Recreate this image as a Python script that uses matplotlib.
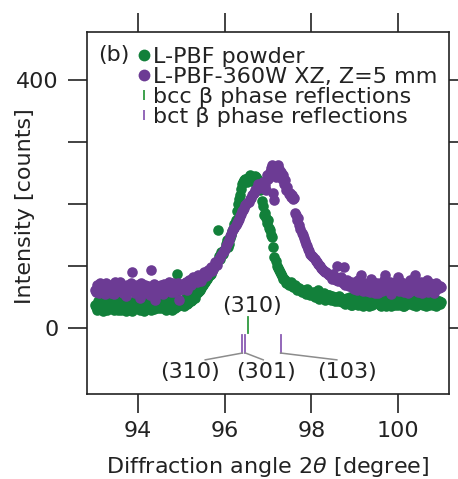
import matplotlib
matplotlib.use("Agg")
import matplotlib.pyplot as plt
from matplotlib.lines import Line2D
import numpy as np

# XRD scan grid (2theta, degree): main points and the in-between points
two_theta = np.round(np.arange(93.0, 101.0 + 1e-9, 0.05), 2)
two_theta_mid = np.round(np.arange(93.025, 101.0, 0.05), 3)

# L-PBF powder, counts
powder = [
    38, 30, 42, 35, 28, 40, 33, 45, 36, 30,
    41, 34, 29, 44, 37, 32, 40, 27, 38, 43,
    35, 30, 46, 38, 33, 41, 29, 36, 44, 32,
    39, 47, 34, 30, 42, 37, 45, 33, 88, 40,
    44, 36, 48, 41, 50, 46, 52, 56, 60, 64,
    70, 75, 80, 86, 92, 98, 104, 158, 112, 120,
    128, 142, 135, 150, 160, 175, 200, 215, 232, 238,
    240, 244, 238, 242, 245, 240, 232, 205, 182, 178,
    174, 158, 147, 115, 100, 94, 88, 80, 77, 75,
    72, 70, 68, 66, 64, 62, 60, 58, 63, 56,
    55, 59, 52, 61, 54, 50, 56, 48, 53, 46,
    50, 44, 48, 52, 42, 47, 40, 45, 50, 38,
    44, 48, 40, 46, 36, 43, 49, 41, 38, 45,
    40, 47, 35, 42, 48, 39, 44, 36, 46, 41,
    38, 45, 42, 36, 48, 40, 44, 37, 46, 43,
    39, 47, 41, 35, 45, 42, 38, 46, 40, 44,
    42,
]
powder_mid = [
    34, 44, 31, 39, 46, 29, 37, 41, 33, 47,
    30, 38, 45, 33, 28, 42, 36, 31, 46, 35,
    43, 37, 28, 40, 45, 34, 39, 31, 47, 38,
    33, 41, 38, 46, 35, 29, 40, 48, 36, 43,
    40, 47, 39, 52, 44, 55, 49, 58, 62, 68,
    72, 78, 83, 88, 95, 101, 108, 116, 122, 126,
    136, 130, 145, 156, 168, 188, 208, 224, 235, 241,
    236, 247, 240, 236, 243, 238, 222, 196, 186, 170,
    162, 150, 130, 108, 97, 90, 84, 79, 73, 70,
    74, 66, 69, 61, 65, 58, 62, 55, 59, 53,
    57, 50, 58, 47, 55, 51, 45, 54, 49, 52,
    46, 51, 43, 49, 45, 39, 48, 43, 37, 47,
    41, 37, 45, 50, 39, 46, 35, 44, 48, 40,
    45, 38, 49, 40, 36, 45, 41, 48, 37, 44,
    47, 40, 35, 44, 39, 46, 41, 49, 36, 42,
    45, 37, 43, 48, 38, 41, 47, 36, 43, 39,
]

# L-PBF-360W XZ, Z=5 mm, counts
built = [
    62, 70, 56, 66, 60, 72, 58, 64, 68, 55,
    66, 60, 71, 57, 63, 69, 61, 90, 65, 58,
    67, 48, 62, 70, 59, 66, 94, 61, 45, 68,
    57, 64, 71, 60, 66, 58, 73, 63, 69, 45,
    70, 64, 75, 68, 78, 72, 80, 74, 82, 76,
    84, 88, 86, 95, 92, 100, 104, 110, 114, 122,
    128, 136, 142, 152, 160, 166, 172, 180, 188, 194,
    200, 204, 210, 216, 222, 226, 230, 228, 234, 222,
    240, 252, 263, 206, 250, 256, 252, 246, 238, 228,
    218, 214, 210, 182, 178, 160, 150, 140, 132, 124,
    118, 114, 108, 104, 100, 96, 92, 90, 86, 84,
    88, 80, 100, 78, 76, 98, 74, 70, 72, 66,
    74, 62, 68, 85, 60, 71, 65, 58, 76, 63,
    69, 57, 73, 64, 85, 61, 70, 55, 67, 74,
    82, 63, 69, 58, 72, 66, 60, 75, 85, 62,
    68, 56, 71, 64, 59, 73, 66, 61, 70, 65,
    67,
]
built_mid = [
    58, 66, 73, 61, 55, 67, 70, 57, 63, 74,
    61, 74, 59, 66, 52, 64, 72, 67, 56, 70,
    60, 73, 57, 65, 68, 54, 64, 71, 59, 63,
    70, 55, 62, 68, 74, 63, 58, 66, 72, 61,
    67, 73, 61, 77, 70, 82, 76, 86, 79, 81,
    90, 84, 93, 98, 96, 106, 102, 112, 118, 125,
    132, 139, 148, 156, 162, 170, 176, 184, 191, 198,
    202, 208, 214, 218, 224, 232, 226, 236, 230, 246,
    248, 258, 218, 244, 262, 248, 240, 232, 222, 216,
    212, 208, 186, 174, 166, 154, 146, 136, 128, 120,
    116, 111, 106, 102, 97, 94, 91, 87, 85, 80,
    84, 78, 76, 82, 72, 70, 78, 68, 74, 63,
    70, 78, 64, 67, 73, 60, 69, 80, 66, 57,
    72, 66, 60, 78, 69, 63, 75, 58, 71, 64,
    60, 74, 65, 70, 56, 77, 68, 63, 72, 58,
    74, 63, 67, 78, 62, 69, 57, 72, 64, 68,
]

# reflection positions
bcc_pos = [96.54]
bcc_hkl = ["(310)"]
bct_pos = [96.41, 96.48, 97.29]
bct_hkl = ["(310)", "(301)", "(103)"]
bct_label_x = [95.20, 96.96, 98.83]
bct_link_end = [95.55, 96.89, 98.59]

green = "#12803a"
purple = "#6c3b94"
purple_tick = "#8a5cb3"
green_tick = "#2f9a3f"
dark = "#222222"

plt.rcParams["font.size"] = 16
plt.rcParams["axes.linewidth"] = 1.2

fig = plt.figure(figsize=(4.58, 4.79), dpi=100)
ax = fig.add_axes([87 / 458, 85 / 479, 362 / 458, 362 / 479])

x_all = np.concatenate([two_theta, two_theta_mid])
ax.scatter(x_all, powder + powder_mid, s=58, color=green, linewidths=0, zorder=2)
ax.scatter(x_all, built + built_mid, s=58, color=purple, linewidths=0, zorder=3)

# bcc reflection
for x, hkl in zip(bcc_pos, bcc_hkl):
    ax.plot([x, x], [-8, 18], color=green_tick, lw=1.3)
    ax.text(x + 0.1, 35, hkl, ha="center", va="center", color=dark)

# bct reflections with leader lines
for x, hkl, lx, ex in zip(bct_pos, bct_hkl, bct_label_x, bct_link_end):
    ax.plot([x, x], [-11, -40], color=purple_tick, lw=1.3)
    ax.plot([x, ex], [-40, -51], color="#8c8c8c", lw=1.1)
    ax.text(lx, -71, hkl, ha="center", va="center", color=dark)

ax.set_xlim(92.82, 101.18)
ax.set_ylim(-106, 477)
ax.set_xticks([94, 96, 98, 100])
ax.set_yticks([0, 100, 200, 300, 400])
ax.set_yticklabels(["0", "", "", "", "400"])
ax.tick_params(direction="out", length=13.5, width=1.2, colors=dark,
               top=True, right=True, pad=6)
ax.tick_params(axis="y", pad=7)
for sp in ax.spines.values():
    sp.set_color(dark)

ax.set_xlabel(r"Diffraction angle 2$\theta$ [degree]", color=dark, labelpad=10)
ax.set_ylabel("Intensity [counts]", color=dark)
ax.yaxis.set_label_coords(-0.143, 0.52)

handles = [
    Line2D([], [], marker="o", ls="None", color=green, markersize=8.5, mew=0),
    Line2D([], [], marker="o", ls="None", color=purple, markersize=8.5, mew=0),
    Line2D([], [], marker="|", ls="None", color=green_tick, markersize=7, mew=1.3),
    Line2D([], [], marker="|", ls="None", color=purple_tick, markersize=7, mew=1.3),
]
labels = ["L-PBF powder", "L-PBF-360W XZ, Z=5 mm",
          "bcc \u03b2 phase reflections", "bct \u03b2 phase reflections"]
leg = ax.legend(handles, labels, loc="upper left", bbox_to_anchor=(0.142, 0.958),
                frameon=False, borderpad=0, handlelength=0.5, handletextpad=0.15,
                labelspacing=0.0, borderaxespad=0)
for t in leg.get_texts():
    t.set_color(dark)
ax.text(0.03, 0.936, "(b)", transform=ax.transAxes, ha="left", va="center", color=dark)

fig.savefig("out.png", dpi=100)
